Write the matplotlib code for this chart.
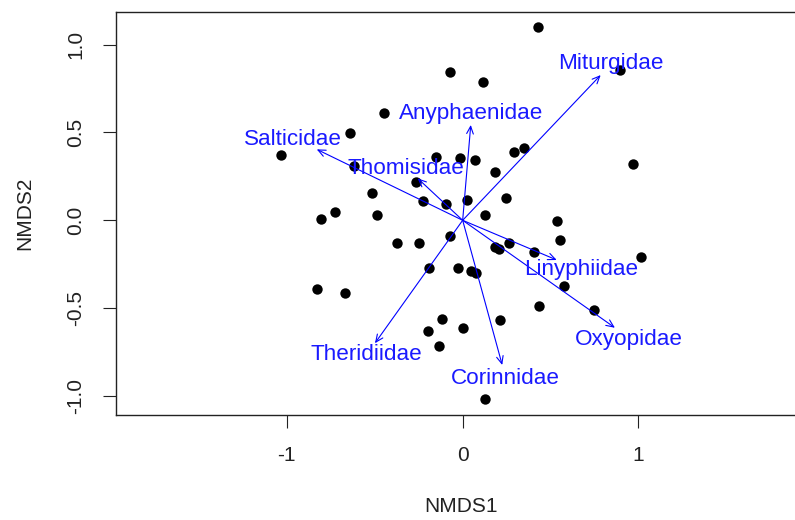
import matplotlib
matplotlib.use("Agg")
import matplotlib.pyplot as plt

plt.rcParams['font.family'] = ['Liberation Sans', 'DejaVu Sans']

# Site scores (NMDS1, NMDS2)
nmds1 = [0.427, -0.071, 0.118, 0.896, -0.446, -0.643, -1.032, -0.150, -0.015, 0.072,
         0.294, 0.350, 0.183, 0.969, -0.617, -0.264, -0.515, -0.223, -0.094, 0.026,
         0.246, -0.729, -0.804, -0.486, 0.127, 0.538, 0.555, -0.072, -0.374, -0.247,
         0.262, 0.183, 0.208, 0.406, 1.014, -0.192, -0.025, 0.048, 0.078, 0.578,
         -0.827, -0.668, 0.436, 0.745, -0.117, -0.199, 0.000, 0.214, -0.135, 0.127]
nmds2 = [1.102, 0.842, 0.786, 0.854, 0.609, 0.497, 0.370, 0.359, 0.356, 0.341,
         0.387, 0.412, 0.274, 0.322, 0.311, 0.218, 0.155, 0.109, 0.093, 0.116,
         0.126, 0.046, 0.006, 0.030, 0.030, -0.002, -0.114, -0.088, -0.129, -0.129,
         -0.128, -0.154, -0.163, -0.182, -0.209, -0.273, -0.273, -0.289, -0.302, -0.376,
         -0.391, -0.416, -0.486, -0.511, -0.564, -0.630, -0.613, -0.566, -0.718, -1.019]

# Fitted family vectors (arrow tips) and label positions
families = ['Salticidae', 'Thomisidae', 'Anyphaenidae', 'Miturgidae',
            'Linyphiidae', 'Oxyopidae', 'Corinnidae', 'Theridiidae']
vec_x = [-0.830, -0.256, 0.046, 0.785, 0.535, 0.866, 0.225, -0.499]
vec_y = [0.404, 0.239, 0.543, 0.827, -0.226, -0.612, -0.824, -0.700]
lab_x = [-0.964, -0.321, 0.046, 0.841, 0.675, 0.947, 0.242, -0.548]
lab_y = [0.461, 0.296, 0.609, 0.894, -0.283, -0.678, -0.900, -0.767]

xticks = [-1, 0, 1]
yticks = [-1.0, -0.5, 0.0, 0.5, 1.0]

W, H = 795, 520
fig = plt.figure(figsize=(W / 100, H / 100), dpi=100)
left, right, bottom, top = 116, 806, 414.7, 11.5
ax = fig.add_axes([left / W, 1 - bottom / H, (right - left) / W, (bottom - top) / H])

ax.scatter(nmds1, nmds2, s=56, c='black', marker='o', linewidths=0, zorder=3)

for fx, fy, tx, ty, name in zip(vec_x, vec_y, lab_x, lab_y, families):
    ax.annotate('', xy=(fx, fy), xytext=(0, 0),
                arrowprops=dict(arrowstyle='->,head_length=0.45,head_width=0.2',
                                color='#0000FF', lw=0.8, shrinkA=0, shrinkB=0,
                                mutation_scale=12), zorder=4)
    ax.text(tx, ty, name, color='#1A1AFF', fontsize=16.2, ha='center', va='center', zorder=5)

ax.set_xlim(-1.972, 1.953)
ax.set_ylim(-1.107, 1.189)
ax.set_xticks(xticks)
ax.set_xticklabels([f"{t:g}" for t in xticks])
ax.set_yticks(yticks)
ax.set_yticklabels([f"{t:.1f}" for t in yticks], rotation=90, va='center')
ax.tick_params(direction='out', length=9.4, width=0.8, labelsize=15, pad=13, colors='#222222')
for sp in ax.spines.values():
    sp.set_linewidth(1.0)
    sp.set_color('#222222')

fig.text(461 / W, 1 - 507 / H, 'NMDS1', fontsize=15, ha='center', va='center', color='#222222')
fig.text(25 / W, 1 - 213 / H, 'NMDS2', fontsize=15, ha='center', va='center', rotation=90, color='#222222')

fig.savefig('out.png', dpi=100)
